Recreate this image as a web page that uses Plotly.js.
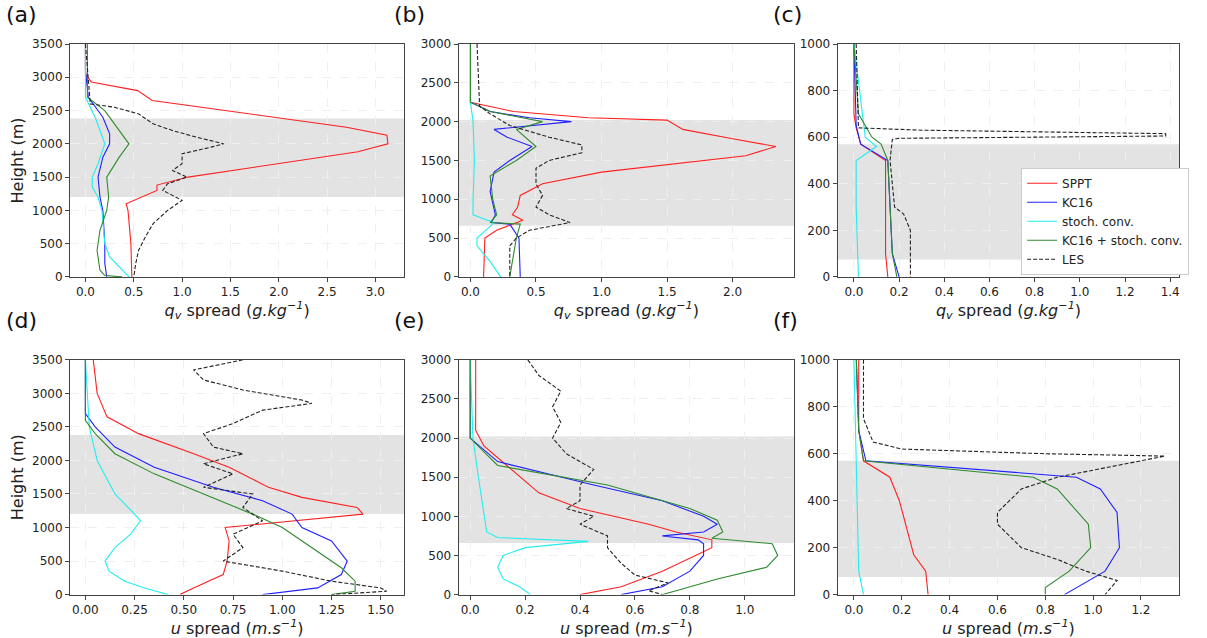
<!DOCTYPE html>
<html>
<head>
<script src="https://cdn.plot.ly/plotly-3.0.1.min.js"></script>
<style>body{margin:0;background:#fff}</style>
</head>
<body>
<div id="plot" style="width:1207px;height:638px"></div>
<script>
// heights (m) and spread values
var a_sppt_h = [3500,3050,2930,2800,2650,2250,2130,2000,1880,1500,1380,1300,1100,1000,500,0];
var a_sppt_x = [0,0,0.06,0.54,0.69,2.7,3.12,3.13,2.82,1.06,0.74,0.74,0.42,0.44,0.47,0.48];
var a_kc_h = [3500,3100,2700,2400,2150,2000,1800,1500,1200,1000,500,200,0];
var a_kc_x = [0,0,0.03,0.18,0.25,0.25,0.18,0.13,0.15,0.18,0.2,0.2,0.22];
var a_sc_h = [3500,2700,2400,2000,1700,1500,1350,1200,1000,500,300,150,0];
var a_sc_x = [0,0,0.1,0.2,0.13,0.07,0.07,0.13,0.17,0.2,0.25,0.35,0.45];
var a_ks_h = [3500,2700,2500,2200,2000,1800,1500,1200,1000,700,400,100,20,0];
var a_ks_x = [0.02,0.02,0.2,0.35,0.45,0.35,0.22,0.24,0.22,0.15,0.12,0.15,0.2,0.38];
var a_les_h = [3500,2600,2550,2450,2300,2200,2100,2000,1950,1850,1700,1600,1500,1400,1300,1150,1000,800,600,400,200,0];
var a_les_x = [0,0.05,0.3,0.55,0.7,0.9,1.15,1.43,1.3,1.0,1.0,0.9,1.05,0.85,0.8,1.0,0.85,0.7,0.62,0.55,0.52,0.5];

var b_sppt_h = [3000,2250,2130,2050,2020,1900,1780,1680,1560,1450,1350,1200,1050,900,800,730,680,600,500,0];
var b_sppt_x = [0,0,0.33,0.9,1.5,1.62,2.0,2.33,2.1,1.5,1.0,0.55,0.38,0.36,0.32,0.4,0.32,0.2,0.11,0.1];
var b_kc_h = [3000,2250,2130,2050,2000,1900,1800,1680,1500,1350,1100,800,700,680,500,0];
var b_kc_x = [0,0,0.15,0.45,0.77,0.18,0.28,0.47,0.3,0.18,0.15,0.19,0.16,0.3,0.37,0.38];
var b_sc_h = [3000,2250,2000,1500,1000,800,750,700,650,500,400,200,0];
var b_sc_x = [0,0,0.02,0.03,0.02,0.02,0.1,0.18,0.15,0.05,0.05,0.15,0.23];
var b_ks_h = [3000,2250,2130,2000,1900,1680,1500,1300,1000,800,700,680,500,200,0];
var b_ks_x = [0,0,0.15,0.55,0.35,0.5,0.35,0.15,0.17,0.2,0.15,0.38,0.35,0.32,0.3];
var b_les_h = [3000,2200,2100,1950,1800,1700,1600,1500,1400,1200,1050,900,800,700,600,500,400,200,0];
var b_les_x = [0.05,0.07,0.15,0.3,0.6,0.85,0.85,0.6,0.5,0.5,0.55,0.5,0.6,0.76,0.45,0.35,0.3,0.3,0.3];

var c_sppt_h = [1000,700,640,570,500,400,100,0];
var c_sppt_x = [0,0,0.01,0.03,0.14,0.14,0.14,0.15];
var c_kc_h = [1000,650,570,500,100,0];
var c_kc_x = [0,0.01,0.03,0.15,0.17,0.2];
var c_sc_h = [1000,600,560,500,300,0];
var c_sc_x = [0,0.05,0.1,0.01,0.01,0.02];
var c_ks_h = [1000,700,600,570,500,100,0];
var c_ks_x = [0,0.02,0.08,0.12,0.15,0.17,0.19];
var c_les_h = [1000,640,630,615,605,595,590,500,300,270,200,100,0];
var c_les_x = [0.01,0.02,0.3,1.38,1.38,0.2,0.17,0.16,0.18,0.22,0.25,0.25,0.25];

var d_sppt_h = [3500,3000,2650,2400,2100,1900,1600,1450,1300,1200,1000,800,500,300,100,0];
var d_sppt_x = [0.04,0.06,0.11,0.27,0.55,0.73,0.93,1.1,1.38,1.41,0.71,0.73,0.72,0.7,0.55,0.48];
var d_kc_h = [3500,2700,2500,2200,1900,1600,1400,1200,1000,800,500,300,100,0];
var d_kc_x = [0,0,0.05,0.15,0.35,0.65,0.9,1.05,1.1,1.25,1.33,1.3,1.18,0.9];
var d_sc_h = [3500,2500,2000,1500,1200,1100,900,700,500,350,200,100,0];
var d_sc_x = [0,0.02,0.06,0.15,0.25,0.28,0.23,0.15,0.1,0.12,0.2,0.3,0.42];
var d_ks_h = [3500,2600,2400,2100,1800,1500,1200,1000,700,400,200,50,0];
var d_ks_x = [0,0,0.05,0.15,0.35,0.6,0.85,1.0,1.15,1.3,1.37,1.37,1.25];
var d_les_h = [3500,3350,3200,3050,2900,2850,2750,2550,2400,2200,2100,1950,1800,1600,1500,1300,1100,900,700,500,450,350,200,100,50,0];
var d_les_x = [0.8,0.55,0.6,0.8,1.1,1.15,0.9,0.75,0.6,0.65,0.8,0.6,0.75,0.6,0.85,0.8,0.9,0.75,0.8,0.7,0.8,1.0,1.25,1.5,1.53,1.25];

var e_sppt_h = [3000,2100,1900,1600,1300,1100,900,800,700,600,500,300,100,0];
var e_sppt_x = [0.02,0.02,0.05,0.15,0.25,0.4,0.65,0.75,0.88,0.88,0.82,0.7,0.55,0.4];
var e_kc_h = [3000,2000,1700,1400,1200,1000,900,800,750,700,650,500,300,100,0];
var e_kc_x = [0,0,0.1,0.45,0.7,0.85,0.9,0.85,0.7,0.83,0.85,0.85,0.8,0.7,0.55];
var e_sc_h = [3000,2000,1500,800,730,680,600,500,350,200,100,0];
var e_sc_x = [0,0.01,0.03,0.06,0.1,0.43,0.2,0.12,0.1,0.12,0.18,0.22];
var e_ks_h = [3000,2000,1650,1400,1100,950,800,720,650,500,350,200,50,0];
var e_ks_x = [0,0,0.1,0.5,0.8,0.9,0.92,0.88,1.1,1.12,1.08,0.9,0.75,0.7];
var e_les_h = [3000,2800,2600,2400,2200,2000,1800,1600,1400,1200,1100,1000,900,750,600,400,250,150,50,0];
var e_les_x = [0.21,0.25,0.33,0.3,0.33,0.3,0.35,0.45,0.4,0.4,0.35,0.45,0.4,0.5,0.5,0.55,0.6,0.72,0.65,0.7];

var f_sppt_h = [1000,700,570,500,400,250,170,100,0];
var f_sppt_x = [0.02,0.02,0.04,0.15,0.19,0.23,0.25,0.3,0.31];
var f_kc_h = [1000,700,570,500,450,350,200,100,0];
var f_kc_x = [0.01,0.02,0.05,0.93,1.03,1.1,1.11,1.05,0.88];
var f_sc_h = [1000,600,100,50,0];
var f_sc_x = [0,0.01,0.02,0.03,0.04];
var f_ks_h = [1000,700,570,500,450,300,200,100,30,0];
var f_ks_x = [0.01,0.02,0.04,0.75,0.85,0.98,0.99,0.9,0.8,0.8];
var f_les_h = [1000,750,650,620,600,590,570,500,450,350,300,200,150,100,60,0];
var f_les_x = [0.04,0.04,0.08,0.2,0.8,1.3,1.2,0.85,0.7,0.6,0.6,0.7,0.85,0.97,1.1,1.05];

var names = ['SPPT','KC16','stoch. conv.','KC16 + stoch. conv.','LES'];
var colors = ['#ff2020','#2020ff','#22eeee','#2e8b2e','#222'];

var panels = [
  {s:[[a_sppt_x,a_sppt_h],[a_kc_x,a_kc_h],[a_sc_x,a_sc_h],[a_ks_x,a_ks_h],[a_les_x,a_les_h]], xr:[-0.16,3.3], ymax:3500, band:[1200,2380], dt:0.5},
  {s:[[b_sppt_x,b_sppt_h],[b_kc_x,b_kc_h],[b_sc_x,b_sc_h],[b_ks_x,b_ks_h],[b_les_x,b_les_h]], xr:[-0.09,2.47], ymax:3000, band:[660,2020], dt:0.5},
  {s:[[c_sppt_x,c_sppt_h],[c_kc_x,c_kc_h],[c_sc_x,c_sc_h],[c_ks_x,c_ks_h],[c_les_x,c_les_h]], xr:[-0.072,1.44], ymax:1000, band:[75,570], dt:0.2},
  {s:[[d_sppt_x,d_sppt_h],[d_kc_x,d_kc_h],[d_sc_x,d_sc_h],[d_ks_x,d_ks_h],[d_les_x,d_les_h]], xr:[-0.078,1.62], ymax:3500, band:[1200,2380], dt:0.25},
  {s:[[e_sppt_x,e_sppt_h],[e_kc_x,e_kc_h],[e_sc_x,e_sc_h],[e_ks_x,e_ks_h],[e_les_x,e_les_h]], xr:[-0.042,1.18], ymax:3000, band:[660,2020], dt:0.2},
  {s:[[f_sppt_x,f_sppt_h],[f_kc_x,f_kc_h],[f_sc_x,f_sc_h],[f_ks_x,f_ks_h],[f_les_x,f_les_h]], xr:[-0.068,1.36], ymax:1000, band:[75,570], dt:0.2}
];
var xdom = [[0.058,0.335],[0.38,0.658],[0.694,0.977]];
var ydom = [[0.566,0.931],[0.068,0.436]];
var letters = ['(a)','(b)','(c)','(d)','(e)','(f)'];
var qvTitle = '<i>q<sub>v</sub></i> spread (<i>g.kg<sup>−1</sup></i>)';
var uTitle = '<i>u</i> spread (<i>m.s<sup>−1</sup></i>)';

var traces = [], shapes = [], annotations = [];
var layout = {
  width: 1207, height: 638, showlegend: true,
  margin: {l:0, r:0, t:0, b:0},
  paper_bgcolor: '#fff', plot_bgcolor: '#fff',
  font: {family: 'DejaVu Sans', size: 12, color: '#222'},
  legend: {x: 0.846, y: 0.737, xanchor: 'left', yanchor: 'top', bgcolor: '#fff',
           bordercolor: '#ccc', borderwidth: 1, font: {size: 12}, tracegroupgap: 0}
};

panels.forEach(function(p, i) {
  var n = i + 1, sx = n === 1 ? '' : n;
  var xa = 'x' + sx, ya = 'y' + sx;
  p.s.forEach(function(s, k) {
    traces.push({
      x: s[0], y: s[1], xaxis: xa, yaxis: ya, type: 'scatter', mode: 'lines',
      name: names[k], showlegend: i === 2,
      line: {color: colors[k], width: 1.1, dash: k === 4 ? '4px,2px' : 'solid'}
    });
  });
  var ax = {
    domain: xdom[i % 3], anchor: ya, range: p.xr, dtick: p.dt, tick0: 0,
    showgrid: true, gridcolor: '#efefef', griddash: 'dash', zeroline: false,
    showline: true, mirror: true, linecolor: '#444', linewidth: 1,
    ticks: 'outside', ticklen: 4, tickcolor: '#444',
    tickformat: p.dt === 0.25 ? '.2f' : '.1f',
    title: {text: i < 3 ? qvTitle : uTitle, font: {size: 16}, standoff: 4}
  };
  var ay = {
    domain: ydom[i < 3 ? 0 : 1], anchor: xa, range: [0, p.ymax], dtick: p.ymax === 1000 ? 200 : 500,
    showgrid: true, gridcolor: '#efefef', griddash: 'dash', zeroline: false,
    showline: true, mirror: true, linecolor: '#444', linewidth: 1,
    ticks: 'outside', ticklen: 4, tickcolor: '#444'
  };
  if (i % 3 === 0) ay.title = {text: 'Height (m)', font: {size: 16}, standoff: 4};
  layout['xaxis' + sx] = ax;
  layout['yaxis' + sx] = ay;
  shapes.push({type: 'rect', xref: xa + ' domain', yref: ya, x0: 0, x1: 1,
               y0: p.band[0], y1: p.band[1], fillcolor: '#e3e3e3', line: {width: 0}, layer: 'below'});
  annotations.push({text: letters[i], xref: 'paper', yref: 'paper', showarrow: false,
                    x: xdom[i % 3][0] - 0.055, y: (i < 3 ? 1.0 : 0.52), xanchor: 'left', yanchor: 'top',
                    font: {size: 22, color: '#111'}});
});
layout.shapes = shapes;
layout.annotations = annotations;

Plotly.newPlot('plot', traces, layout, {staticPlot: true});
</script>
</body>
</html>
